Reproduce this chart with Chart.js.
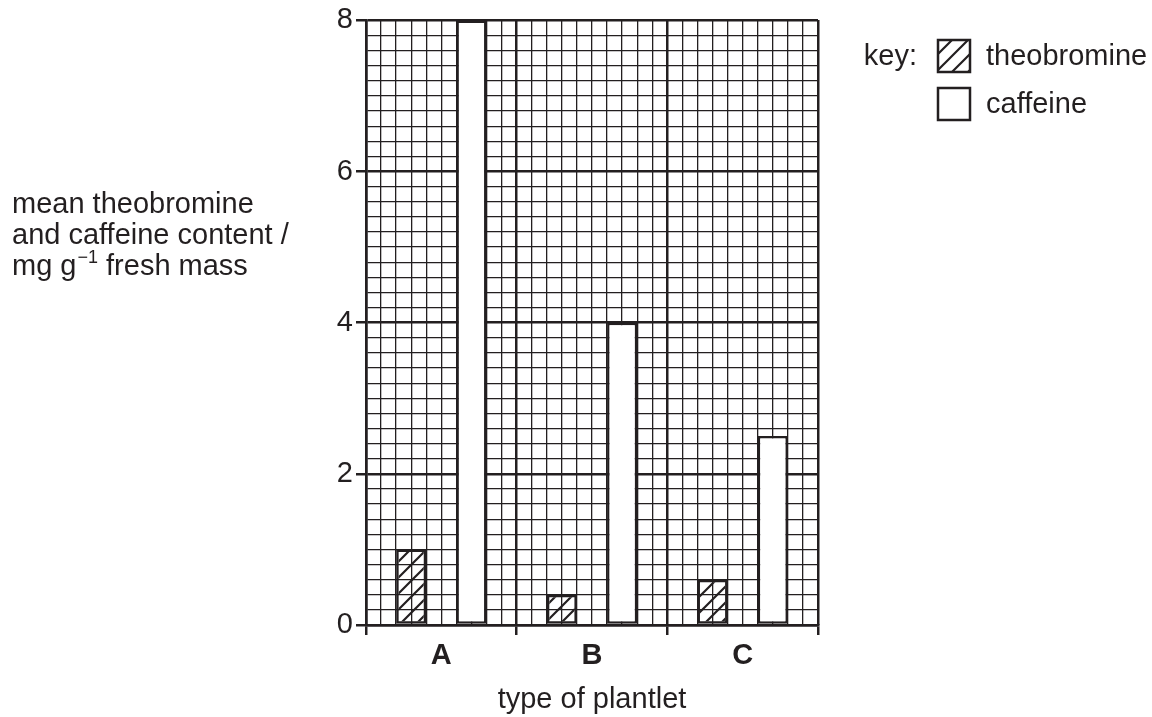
<!DOCTYPE html>
<html>
<head>
<meta charset="utf-8">
<script src="https://cdn.jsdelivr.net/npm/chart.js@4.4.0/dist/chart.umd.min.js"></script>
<style>
    html, body { margin: 0; padding: 0; background: #fff; }
    #wrap { width: 1152px; height: 717px; }
</style>
</head>
<body>
<div id="wrap"><canvas id="plantChart" width="1152" height="717"></canvas></div>
<script>
// Data
const plantlets = ['A', 'B', 'C'];
const theobromine = [1.0, 0.4, 0.6];
const caffeine = [8.0, 4.0, 2.5];
const yMajorStep = 2;
const yMinorStep = 0.2;

const xTitle = 'type of plantlet';
const yTitleLines = ['mean theobromine', 'and caffeine content /'];
const yUnit = ['mg g', '\u22121', ' fresh mass'];
const keyLabels = ['theobromine', 'caffeine'];

const FONT = "'Liberation Sans', Arial, sans-serif";
const INK = '#231f20';

function makeHatch(ctx) {
    const n = 16;
    const tile = document.createElement('canvas');
    tile.width = n;
    tile.height = n;
    const g = tile.getContext('2d');
    g.strokeStyle = INK;
    g.lineWidth = 2.2;
    g.beginPath();
    g.moveTo(0, n); g.lineTo(n, 0);
    g.moveTo(-2, 2); g.lineTo(2, -2);
    g.moveTo(n - 2, n + 2); g.lineTo(n + 2, n - 2);
    g.stroke();
    return ctx.createPattern(tile, 'repeat');
}

const isMajor = v => Math.abs(v / yMajorStep - Math.round(v / yMajorStep)) < 1e-6;
const isWhole = v => Math.abs(v - Math.round(v)) < 1e-6;
const tickVal = c => (c && c.tick) ? c.tick.value : 0;

const ctx = document.getElementById('plantChart').getContext('2d');
const hatch = makeHatch(ctx);

// Draws the horizontal y title and the key
const textPlugin = {
    id: 'textPlugin',
    afterDraw(chart) {
        const c = chart.ctx;
        c.save();
        c.fillStyle = INK;
        c.textAlign = 'left';
        c.textBaseline = 'alphabetic';
        c.font = `29px ${FONT}`;
        c.fillText(yTitleLines[0], 12, 213);
        c.fillText(yTitleLines[1], 12, 244);

        let x = 12;
        c.fillText(yUnit[0], x, 275);
        x += c.measureText(yUnit[0]).width + 1;
        c.font = `18px ${FONT}`;
        c.fillText(yUnit[1], x, 263);
        x += c.measureText(yUnit[1]).width;
        c.font = `29px ${FONT}`;
        c.fillText(yUnit[2], x, 275);

        // key
        c.textAlign = 'right';
        c.fillText('key:', 917, 65);
        c.textAlign = 'left';
        c.fillText(keyLabels[0], 986, 65);
        c.fillText(keyLabels[1], 986, 113);

        c.lineWidth = 2.5;
        c.strokeStyle = INK;
        c.fillStyle = hatch;
        c.fillRect(938, 40, 32, 32);
        c.strokeRect(938, 40, 32, 32);
        c.fillStyle = '#fff';
        c.fillRect(938, 88, 32, 32);
        c.strokeRect(938, 88, 32, 32);
        c.restore();
    }
};

new Chart(ctx, {
    type: 'bar',
    data: {
        labels: plantlets,
        datasets: [
            {
                label: keyLabels[0],
                data: theobromine,
                backgroundColor: hatch,
                borderColor: INK,
                borderWidth: 2.5,
                borderSkipped: false,
                categoryPercentage: 0.8,
                barPercentage: 0.5
            },
            {
                label: keyLabels[1],
                data: caffeine,
                backgroundColor: '#fff',
                borderColor: INK,
                borderWidth: 2.5,
                borderSkipped: false,
                categoryPercentage: 0.8,
                barPercentage: 0.5
            }
        ]
    },
    options: {
        responsive: false,
        animation: false,
        layout: { padding: { left: 0, top: 20, right: 334, bottom: 0 } },
        plugins: {
            legend: { display: false },
            tooltip: { enabled: false }
        },
        scales: {
            x: {
                offset: true,
                grid: {
                    drawOnChartArea: false,
                    drawTicks: true,
                    tickLength: 10,
                    lineWidth: 2.5,
                    color: INK
                },
                border: { display: true, color: INK, width: 2.5 },
                ticks: {
                    color: INK,
                    font: { family: FONT, size: 29, weight: 'bold' },
                    padding: 4,
                    maxRotation: 0
                },
                title: {
                    display: true,
                    text: xTitle,
                    color: INK,
                    font: { family: FONT, size: 29 },
                    padding: { top: 0, bottom: 0 }
                },
                afterFit: s => { s.height = 92; }
            },
            // minor vertical grid, 10 divisions per category
            xg: {
                type: 'linear',
                position: 'top',
                min: 0,
                max: plantlets.length,
                offset: false,
                ticks: { display: false, stepSize: 0.1, autoSkip: false, maxTicksLimit: 1000 },
                grid: {
                    offset: false,
                    drawTicks: false,
                    lineWidth: c => isWhole(tickVal(c)) ? 2.5 : 1.3,
                    color: INK
                },
                border: { display: false },
                afterFit: s => { s.height = 0; }
            },
            y: {
                min: 0,
                max: 8,
                ticks: {
                    stepSize: yMinorStep,
                    autoSkip: false,
                    maxTicksLimit: 1000,
                    color: INK,
                    font: { family: FONT, size: 29 },
                    padding: 3,
                    callback: v => isMajor(v) ? String(Math.round(v)) : ''
                },
                grid: {
                    lineWidth: c => isMajor(tickVal(c)) ? 2.5 : 1.3,
                    color: INK,
                    tickLength: 10,
                    tickWidth: 2.5,
                    tickColor: c => isMajor(tickVal(c)) ? INK : 'rgba(0,0,0,0)'
                },
                border: { display: true, color: INK, width: 2.5 },
                afterFit: s => { s.width = 366; }
            }
        }
    },
    plugins: [textPlugin]
});
</script>
</body>
</html>
